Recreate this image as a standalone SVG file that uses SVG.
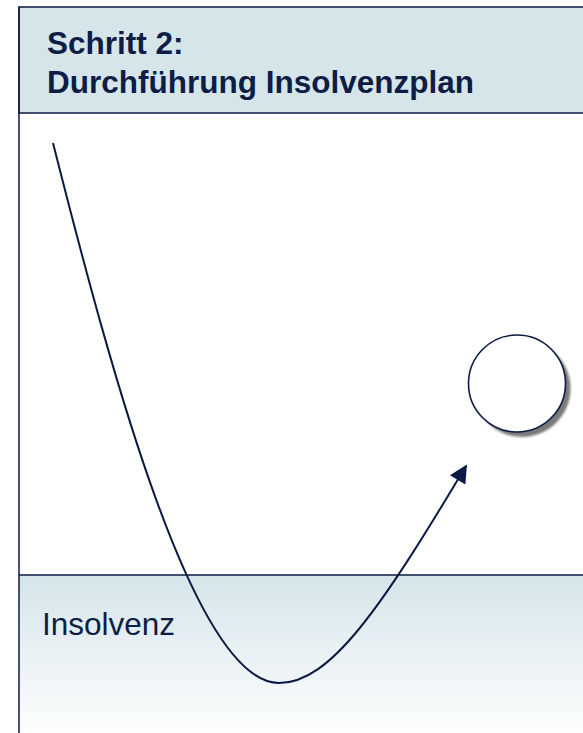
<svg xmlns="http://www.w3.org/2000/svg" width="583" height="733" viewBox="0 0 583 733">
<style>
.ln{stroke:#0b1a45}
.hd{font-family:"Liberation Sans",Arial,sans-serif;font-weight:bold;font-size:31.5px;fill:#0d1d45}
.lb{font-family:"Liberation Sans",Arial,sans-serif;font-size:31.5px;fill:#0d1d45}
</style>
<defs>
<linearGradient id="band" x1="0" y1="0" x2="0" y2="1">
<stop offset="0" stop-color="#d5e5ea"/>
<stop offset="1" stop-color="#ffffff"/>
</linearGradient>
<filter id="blur" x="-20%" y="-20%" width="140%" height="140%"><feGaussianBlur stdDeviation="1"/></filter>
<marker id="arr" viewBox="0 0 10 10" refX="9" refY="5" markerWidth="10" markerHeight="9" markerUnits="strokeWidth" orient="auto">
<path d="M0,0 L10,5 L0,10 z" fill="#0b1a45"/>
</marker>
</defs>
<rect x="0" y="0" width="583" height="733" fill="#ffffff"/>
<g id="insolvenz-band">
<rect x="19" y="575" width="570" height="165" fill="url(#band)"/>
<line class="ln" x1="19" y1="575" x2="583" y2="575" stroke-width="1.5"/>
<text class="lb" x="42" y="635">Insolvenz</text>
</g>
<g id="header">
<rect x="19" y="7" width="570" height="106" fill="#d5e5ea" class="ln" stroke-width="1.5"/>
<text class="hd" x="47" y="54">Schritt 2:</text>
<text class="hd" x="47" y="93">Durchführung Insolvenzplan</text>
</g>
<line id="left-border" class="ln" x1="19" y1="7" x2="19" y2="733" stroke-width="1.5"/>
<g id="target">
<circle cx="522" cy="388.5" r="48.5" fill="#7a7a7a" filter="url(#blur)"/>
<circle cx="517" cy="383.5" r="48.5" fill="#ffffff" class="ln" stroke-width="1.6"/>
</g>
<g id="connectors">
<path class="ln" fill="none" stroke-width="2" d="M53,143 C113,380 195,683 279,683 C330,683 380,610 466,466" marker-end="url(#arr)"/>
</g>
</svg>
